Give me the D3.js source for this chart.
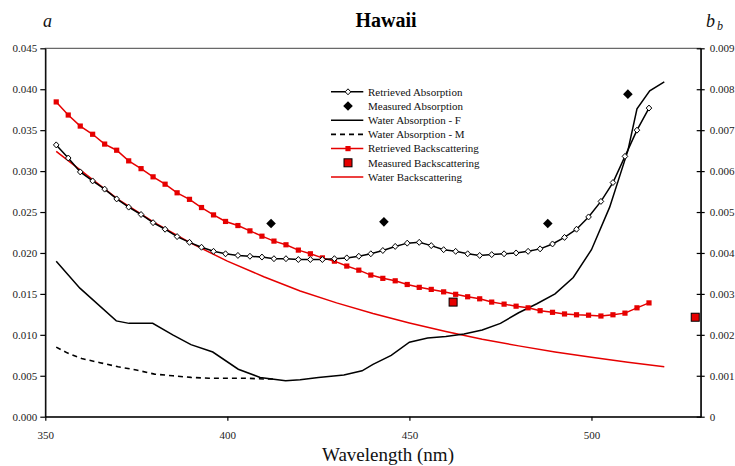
<!DOCTYPE html>
<html>
<head>
<meta charset="utf-8">
<script src="https://cdn.jsdelivr.net/npm/d3@7"></script>
<style>
  html, body { margin: 0; padding: 0; background: #fff; }
  svg { display: block; font-family: "Liberation Serif", "Times New Roman", serif; }
</style>
</head>
<body>
<svg id="chart" width="735" height="466"></svg>
<script>
// Band centres of the retrieved spectra (nm)
const wavelengths = [353.0, 356.3, 359.6, 363.0, 366.3, 369.6, 372.9, 376.3, 379.6, 382.9,
  386.2, 389.6, 392.9, 396.2, 399.5, 402.9, 406.2, 409.5, 412.8, 416.1,
  419.5, 422.8, 426.1, 429.4, 432.8, 436.1, 439.4, 442.7, 446.1, 449.4,
  452.7, 456.0, 459.4, 462.7, 466.0, 469.3, 472.6, 476.0, 479.3, 482.6,
  485.9, 489.3, 492.6, 495.9, 499.2, 502.6, 505.9, 509.2, 512.5, 515.8];

// Retrieved absorption a (m^-1), left axis
const retrievedAbs = [0.0332, 0.0316, 0.0299, 0.0288, 0.0278, 0.0266, 0.0256, 0.0247, 0.0237, 0.0229,
  0.0220, 0.0213, 0.0207, 0.0202, 0.0199, 0.0197, 0.0196, 0.0195, 0.0193, 0.0193,
  0.0192, 0.0192, 0.0192, 0.0193, 0.0194, 0.0196, 0.0199, 0.0203, 0.0208, 0.0212,
  0.0213, 0.0209, 0.0204, 0.0202, 0.0199, 0.0197, 0.0198, 0.0199, 0.0200, 0.0202,
  0.0205, 0.0211, 0.0219, 0.0229, 0.0244, 0.0263, 0.0286, 0.0318, 0.0350, 0.0377];

// Retrieved backscattering bb (m^-1), right axis
const retrievedBb = [0.00769, 0.00737, 0.00710, 0.00690, 0.00666, 0.00651, 0.00625, 0.00606, 0.00586, 0.00568,
  0.00547, 0.00531, 0.00511, 0.00493, 0.00477, 0.00467, 0.00454, 0.00441, 0.00429, 0.00420,
  0.00407, 0.00398, 0.00388, 0.00380, 0.00368, 0.00358, 0.00346, 0.00338, 0.00332, 0.00323,
  0.00316, 0.00311, 0.00305, 0.00299, 0.00293, 0.00288, 0.00280, 0.00275, 0.00270, 0.00266,
  0.00259, 0.00255, 0.00251, 0.00249, 0.00248, 0.00246, 0.00249, 0.00253, 0.00266, 0.00278];

// Measured absorption (ac-9 bands)
const measuredAbsWl = [412, 443, 488, 510];
const measuredAbs = [0.0236, 0.0238, 0.0236, 0.0394];

// Measured backscattering
const measuredBbWl = [462, 528.5];
const measuredBb = [0.00280, 0.00243];

// Pure water absorption, F
const waterFWl = [353, 359.5, 369.5, 373, 379.5, 385, 390, 396, 403, 409, 416, 420, 425, 432,
  437, 440, 445, 450, 455, 460, 465, 470, 475, 480, 485, 490, 495, 500, 505, 510, 512.5, 516, 520];
const waterF = [0.0190, 0.0157, 0.0117, 0.0114, 0.0114, 0.0100, 0.0088, 0.0079, 0.0058, 0.0048, 0.0044, 0.0045, 0.0048, 0.0051,
  0.0056, 0.0064, 0.0075, 0.0091, 0.0096, 0.0098, 0.0101, 0.0106, 0.0114, 0.0127, 0.0138, 0.0150, 0.0170, 0.0204, 0.0256, 0.0325, 0.0376, 0.0398, 0.0409];

// Pure water absorption, M
const waterMWl = [353, 356, 360, 365, 370, 375, 380, 385, 390, 395, 400, 405, 410, 413];
const waterM = [0.0085, 0.0078, 0.0071, 0.0066, 0.0061, 0.0057, 0.0052, 0.0050, 0.0048, 0.0047, 0.0047, 0.0047, 0.0046, 0.0046];

// Pure water backscattering
const waterBbWl = [353, 360, 370, 380, 390, 400, 410, 420, 430, 440, 450, 460, 470, 480, 490, 500, 510, 520];
const waterBb = [0.00648, 0.00600, 0.00531, 0.00474, 0.00424, 0.00380, 0.00342, 0.00307, 0.00278, 0.00252,
  0.00229, 0.00208, 0.00189, 0.00173, 0.00158, 0.00145, 0.00133, 0.00122];

// Axis ticks
const xTicks = [350, 400, 450, 500];
const aTicks = [0, 0.005, 0.010, 0.015, 0.020, 0.025, 0.030, 0.035, 0.040, 0.045];
const bbTicks = [0, 0.001, 0.002, 0.003, 0.004, 0.005, 0.006, 0.007, 0.008, 0.009];

const legendLabels = ["Retrieved Absorption", "Measured Absorption", "Water Absorption - F",
  "Water Absorption - M", "Retrieved Backscattering", "Measured Backscattering", "Water Backscattering"];

const RED = "#e60000";
const svg = d3.select("#chart");

const plot = { left: 45.3, right: 700.7, top: 48.3, bottom: 416.7 };
const x = d3.scaleLinear().domain([350, 530]).range([plot.left, plot.right]);
const yA = d3.scaleLinear().domain([0, 0.045]).range([plot.bottom, plot.top]);
const yB = d3.scaleLinear().domain([0, 0.009]).range([plot.bottom, plot.top]);

// Plot-area frame
svg.append("rect")
  .attr("x", plot.left).attr("y", plot.top)
  .attr("width", plot.right - plot.left).attr("height", plot.bottom - plot.top)
  .attr("fill", "none").attr("stroke", "#444").attr("stroke-width", 1);

// Axes
const fmt3 = d3.format(".3f");
const axisStyle = g => {
  g.select(".domain").attr("stroke", "#000").attr("stroke-width", 1.3);
  g.selectAll(".tick line").attr("stroke", "#000").attr("stroke-width", 1.2);
  g.selectAll(".tick text").attr("fill", "#222").style("font-size", "11px")
    .style("font-family", "'Liberation Serif', 'Times New Roman', serif");
};

svg.append("g")
  .attr("transform", `translate(${plot.left},0)`)
  .call(d3.axisLeft(yA).tickValues(aTicks).tickFormat(fmt3).tickSize(5).tickPadding(3).tickSizeOuter(0))
  .call(axisStyle);

const rightAxis = svg.append("g")
  .attr("transform", `translate(${plot.right},0)`)
  .call(d3.axisRight(yB).tickValues(bbTicks).tickFormat(d => d === 0 ? "0" : fmt3(d))
    .tickSize(4).tickPadding(5).tickSizeOuter(0))
  .call(axisStyle);
rightAxis.selectAll(".tick line").attr("x1", -4);

svg.append("g")
  .attr("transform", `translate(0,${plot.bottom})`)
  .call(d3.axisBottom(x).tickValues(xTicks).tickFormat(d3.format("d")).tickSize(4).tickPadding(11).tickSizeOuter(0))
  .call(axisStyle);

// Lines
const lineA = (wl, vals) => d3.line().x((d, i) => x(wl[i])).y(d => yA(d))(vals);
const lineB = (wl, vals) => d3.line().x((d, i) => x(wl[i])).y(d => yB(d))(vals);

const series = svg.append("g");

series.append("path").attr("d", lineB(waterBbWl, waterBb))
  .attr("fill", "none").attr("stroke", RED).attr("stroke-width", 1.5);

series.append("path").attr("d", lineA(waterMWl, waterM))
  .attr("fill", "none").attr("stroke", "#000").attr("stroke-width", 1.6).attr("stroke-dasharray", "5,4");

series.append("path").attr("d", lineA(waterFWl, waterF))
  .attr("fill", "none").attr("stroke", "#000").attr("stroke-width", 1.5);

series.append("path").attr("d", lineB(wavelengths, retrievedBb))
  .attr("fill", "none").attr("stroke", RED).attr("stroke-width", 1.5);

series.append("path").attr("d", lineA(wavelengths, retrievedAbs))
  .attr("fill", "none").attr("stroke", "#000").attr("stroke-width", 1.5);

// Marker shapes
const diamond = (hw, hh) => `M0,${-hh}L${hw},0L0,${hh}L${-hw},0Z`;

series.append("g").selectAll("rect").data(retrievedBb).join("rect")
  .attr("x", (d, i) => x(wavelengths[i]) - 2.6).attr("y", d => yB(d) - 2.6)
  .attr("width", 5.2).attr("height", 5.2).attr("fill", RED);

series.append("g").selectAll("path").data(retrievedAbs).join("path")
  .attr("transform", (d, i) => `translate(${x(wavelengths[i])},${yA(d)})`)
  .attr("d", diamond(2.8, 3.0)).attr("fill", "#fff").attr("stroke", "#000").attr("stroke-width", 1);

series.append("g").selectAll("path").data(measuredAbs).join("path")
  .attr("transform", (d, i) => `translate(${x(measuredAbsWl[i])},${yA(d)})`)
  .attr("d", diamond(4.8, 4.8)).attr("fill", "#000");

series.append("g").selectAll("rect").data(measuredBb).join("rect")
  .attr("x", (d, i) => x(measuredBbWl[i]) - 4).attr("y", d => yB(d) - 4)
  .attr("width", 8).attr("height", 8).attr("fill", RED).attr("stroke", "#000").attr("stroke-width", 1);

// Legend
const legend = svg.append("g");
const lx0 = 331, lx1 = 363.3, lmid = 348, ltext = 368, ly0 = 91.8, ldy = 14.2;
legendLabels.forEach((label, i) => {
  const y = ly0 + i * ldy;
  const g = legend.append("g");
  if (i === 0) {
    g.append("line").attr("x1", lx0).attr("x2", lx1).attr("y1", y).attr("y2", y).attr("stroke", "#000").attr("stroke-width", 1.5);
    g.append("path").attr("transform", `translate(${lmid},${y})`).attr("d", diamond(2.8, 3.0))
      .attr("fill", "#fff").attr("stroke", "#000");
  } else if (i === 1) {
    g.append("path").attr("transform", `translate(${lmid},${y})`).attr("d", diamond(4.8, 4.8)).attr("fill", "#000");
  } else if (i === 2) {
    g.append("line").attr("x1", lx0).attr("x2", lx1).attr("y1", y).attr("y2", y).attr("stroke", "#000").attr("stroke-width", 1.5);
  } else if (i === 3) {
    g.append("line").attr("x1", lx0).attr("x2", lx1).attr("y1", y).attr("y2", y).attr("stroke", "#000")
      .attr("stroke-width", 1.6).attr("stroke-dasharray", "5,4");
  } else if (i === 4) {
    g.append("line").attr("x1", lx0).attr("x2", lx1).attr("y1", y).attr("y2", y).attr("stroke", RED).attr("stroke-width", 1.5);
    g.append("rect").attr("x", lmid - 2.6).attr("y", y - 2.6).attr("width", 5.2).attr("height", 5.2).attr("fill", RED);
  } else if (i === 5) {
    g.append("rect").attr("x", lmid - 4).attr("y", y - 4).attr("width", 8).attr("height", 8)
      .attr("fill", RED).attr("stroke", "#000");
  } else {
    g.append("line").attr("x1", lx0).attr("x2", lx1).attr("y1", y).attr("y2", y).attr("stroke", RED).attr("stroke-width", 1.5);
  }
  g.append("text").attr("x", ltext).attr("y", y).attr("dy", "0.35em")
    .attr("fill", "#111").style("font-size", "11px").text(label);
});

// Titles
svg.append("text").attr("x", 386).attr("y", 27).attr("text-anchor", "middle")
  .style("font-size", "20px").style("font-weight", "bold").attr("fill", "#000").text("Hawaii");

svg.append("text").attr("x", 43).attr("y", 27)
  .style("font-size", "18px").style("font-style", "italic").attr("fill", "#111").text("a");

const bb = svg.append("text").attr("x", 706).attr("y", 27)
  .style("font-size", "18px").style("font-style", "italic").attr("fill", "#111");
bb.append("tspan").text("b");
bb.append("tspan").attr("dx", 2).attr("dy", 3).style("font-size", "12px").text("b");

svg.append("text").attr("x", 388).attr("y", 461).attr("text-anchor", "middle")
  .style("font-size", "19px").attr("fill", "#111").text("Wavelength (nm)");
</script>
</body>
</html>
